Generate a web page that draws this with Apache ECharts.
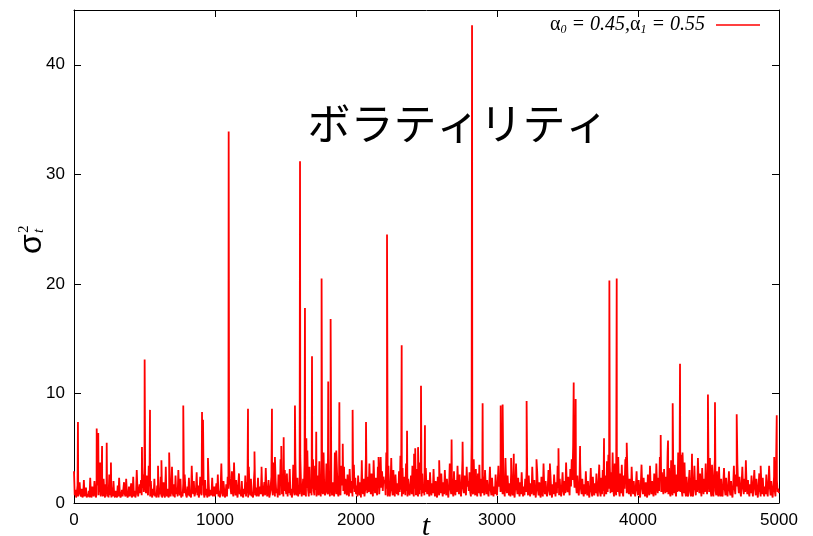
<!DOCTYPE html>
<html>
<head>
<meta charset="utf-8">
<script src="https://cdn.jsdelivr.net/npm/echarts@6/dist/echarts.min.js"></script>
<style>html,body{margin:0;padding:0;background:#fff}#c{width:813px;height:536px}</style>
</head>
<body>
<div id="c"></div>
<script>
const baseStep = 5;
const baseValues = [
2.9,0.7,1.2,0.5,0.9,1.6,0.6,0.5,1.9,0.8,0.6,1.3,0.5,0.7,2.1,0.6,0.9,1.4,0.5,0.8,
0.6,1.1,0.5,2.3,0.7,0.5,1.5,0.9,0.6,2.0,1.2,0.5,0.8,3.1,1.6,0.7,2.4,1.0,0.6,1.8,
1.3,0.6,2.2,0.9,0.5,1.7,0.8,0.6,1.2,0.5,2.6,0.9,0.7,0.5,1.4,0.6,2.0,0.8,0.5,1.1,
0.7,0.5,1.6,0.6,2.3,0.9,0.5,0.7,1.2,0.6,0.5,1.9,0.8,0.6,2.2,1.0,0.5,0.7,1.5,0.6,
0.9,1.8,0.5,0.7,2.4,0.6,1.1,0.5,0.8,3.0,1.3,0.6,0.5,1.7,0.9,2.1,0.7,1.4,2.6,1.0,
3.3,1.8,0.9,2.5,1.2,0.7,3.4,1.5,0.6,2.0,0.8,0.5,1.3,0.7,2.2,0.6,0.9,0.5,1.6,0.7,
0.5,1.2,0.8,2.4,0.6,0.5,1.0,1.9,0.7,0.5,2.7,0.9,0.6,1.3,0.5,0.8,2.0,0.6,1.1,3.3,
0.9,0.6,1.7,0.5,2.5,0.8,1.4,0.6,3.0,1.2,0.7,2.2,0.5,1.0,0.6,1.8,0.9,2.6,1.3,0.7,
0.5,1.5,0.7,2.3,0.6,1.0,0.5,3.4,1.4,0.8,2.0,0.6,0.5,1.2,2.8,0.7,1.6,0.5,0.9,2.4,
1.1,0.7,2.9,1.6,0.9,0.5,2.1,0.7,1.3,0.5,0.8,1.9,0.6,0.5,1.2,0.7,2.3,0.6,0.9,1.5,
0.6,0.5,1.8,0.8,2.6,0.6,1.1,0.5,1.4,3.6,0.9,0.6,2.0,1.2,0.5,0.8,1.7,0.6,2.4,1.3,
3.9,2.2,1.4,0.8,2.9,1.1,0.6,3.7,1.5,0.7,2.1,0.9,0.5,1.6,2.7,0.8,1.2,0.6,2.0,0.7,
0.5,1.3,0.8,2.5,0.6,1.9,0.9,0.5,3.3,1.2,0.7,2.2,0.6,1.0,0.5,1.8,3.1,0.7,1.4,0.6,
0.9,2.3,0.6,0.5,1.5,0.8,2.8,1.1,0.6,0.5,1.9,0.7,3.2,1.3,0.6,1.0,2.1,0.5,0.8,1.6,
2.4,1.2,0.7,3.7,1.5,0.6,2.0,0.9,1.3,0.5,2.6,1.0,0.7,4.0,1.6,0.8,2.2,0.6,1.1,3.0,
1.4,0.8,2.7,0.6,1.9,0.9,3.1,0.7,1.3,0.5,0.9,3.5,1.5,0.7,4.1,1.1,0.7,2.3,0.6,1.6,
0.8,4.3,1.7,0.6,1.2,2.2,0.7,3.6,1.0,0.6,1.4,4.8,1.2,0.6,3.3,0.9,1.8,0.7,1.3,4.0,
1.1,0.7,3.4,1.2,0.6,2.5,1.0,0.7,3.8,1.1,0.6,2.6,1.4,0.8,4.6,1.2,0.7,1.0,3.6,1.2,
0.8,2.1,1.3,0.6,4.8,1.5,0.7,1.9,1.0,0.6,4.6,1.4,0.8,3.0,1.0,0.6,2.7,1.0,0.7,3.4,
1.6,2.9,1.1,3.3,0.8,2.2,1.4,0.7,2.6,1.2,0.6,3.1,1.5,0.9,2.0,0.6,1.3,3.5,1.0,2.3,
0.8,1.6,0.6,2.5,1.1,0.7,1.9,0.5,3.0,1.3,0.8,2.2,0.6,1.2,4.1,1.7,0.9,2.4,1.0,3.6,
1.5,0.8,2.7,1.1,0.6,3.9,1.8,0.9,2.3,1.2,0.7,3.3,1.6,0.8,2.0,4.2,1.4,2.9,1.1,2.4,
1.8,2.1,0.7,4.6,1.3,0.6,3.4,1.0,0.6,1.6,4.1,1.2,0.7,3.0,1.0,0.6,2.6,1.3,0.8,1.8,
0.7,2.9,1.0,4.3,1.2,0.6,3.2,0.8,1.5,2.4,0.7,3.6,1.1,0.6,2.2,1.2,0.7,1.6,2.5,0.8,
3.4,1.0,0.6,4.5,1.3,0.7,3.1,1.0,0.6,2.4,0.8,3.7,1.2,0.6,2.7,0.9,1.6,0.7,1.0,3.2,
1.4,0.8,2.1,1.1,0.6,2.8,1.3,0.7,1.8,0.9,3.1,1.2,0.6,2.0,1.0,0.5,2.4,1.1,0.7,1.6,
0.9,2.7,1.2,0.6,1.9,0.8,3.0,1.4,0.7,2.2,1.0,0.5,1.6,3.6,1.3,0.8,2.3,1.1,0.6,2.9,
1.2,0.7,2.1,1.0,3.4,1.5,0.8,2.6,1.1,0.6,1.8,3.9,1.4,0.9,2.5,1.2,0.7,3.3,1.5,2.0,
1.1,2.8,1.0,0.6,5.4,1.2,0.8,4.0,1.3,0.7,3.1,1.0,0.6,2.7,0.9,3.5,1.0,0.6,2.2,0.9,
2.5,1.3,0.7,3.0,1.6,0.8,2.1,1.0,0.6,1.7,3.3,1.2,0.7,2.3,1.0,0.6,1.5,0.8,2.6,1.1,
0.7,1.9,3.4,1.5,2.4,1.0,3.1,1.6,0.8,2.2,1.1,0.6,4.1,1.7,0.9,2.5,1.2,0.7,1.8,0.6,
2.7,1.3,0.7,2.0,0.9,0.5,1.6,3.6,1.4,0.8,2.3,1.1,0.6,1.9,0.8,2.8,1.2,0.6,1.5,0.7,
2.2,1.0,3.2,1.4,0.7,2.5,1.1,0.6,1.8,0.8,3.3,1.5,0.7,2.1,1.0,0.5,1.6,2.9,1.2,0.7,
1.9,0.8,0.5,2.4,1.1,0.6,3.6,1.5,0.8,2.0,0.9,0.6,1.4,3.0,1.2,0.7,2.3,1.0,0.5,1.7,
0.8,2.6,1.2,0.6,1.9,0.9,3.4,1.4,0.7,2.2,1.0,0.6,1.5,2.8,1.1,0.7,2.0,0.9,3.7,1.6,
1.0,2.4,1.3,0.7,3.1,1.5,4.0,2.1,5.2,2.6,1.4,3.3,1.7,0.9,2.5,1.2,0.7,1.8,3.6,1.3,
0.8,2.2,1.0,0.6,1.7,0.8,2.9,1.3,0.7,2.0,0.9,0.5,1.5,3.2,1.1,0.6,2.4,1.0,0.7,1.8,
0.9,2.7,1.0,0.6,1.9,3.5,1.0,0.6,2.3,0.8,3.0,1.1,0.6,1.3,2.5,0.8,3.8,1.0,4.4,1.3,
3.4,0.9,2.8,1.0,4.6,1.1,0.6,3.6,1.2,0.7,3.0,1.0,4.2,1.1,0.6,2.7,0.9,3.5,1.0,0.6,
2.5,1.3,4.0,1.9,0.9,2.8,1.4,0.8,2.2,1.1,0.6,3.3,1.5,0.8,2.0,1.0,0.6,1.6,2.9,1.2,
0.7,2.1,1.0,0.5,1.7,3.5,1.4,0.8,2.3,1.1,0.6,1.9,0.9,0.5,2.6,1.2,0.7,3.4,1.5,0.8,
2.0,1.0,0.6,2.7,1.3,0.7,3.6,1.6,0.9,2.3,1.1,4.2,2.0,1.0,2.8,1.4,0.8,3.1,1.5,0.9,
2.4,1.0,4.6,0.8,3.2,1.0,0.6,3.9,1.2,0.7,2.9,0.9,3.5,1.1,0.6,2.6,1.0,4.6,1.1,3.4,
1.0,4.4,1.1,0.6,2.8,0.9,3.7,1.0,0.6,2.4,0.8,0.6,1.9,3.0,1.0,0.6,2.2,0.8,0.6,1.6,
3.4,1.4,0.7,2.1,1.0,4.1,1.8,0.9,2.7,1.2,0.6,3.2,1.5,0.8,2.2,1.0,3.6,1.6,0.8,2.4,
3.3,1.0,4.1,1.1,0.6,3.5,1.0,0.6,2.6,4.0,1.1,0.7,2.9,0.9,0.6,3.3,1.0,0.6,2.2,0.8,
0.6,1.8,3.2,1.3,0.7,2.3,1.0,0.6,1.6,2.9,1.2,0.7,2.0,0.9,0.5,1.5,3.4,1.4,0.8,2.6,
1.5,3.6,1.7,0.9,2.4,1.1,0.6,1.8,3.3,1.4,0.8,2.2,1.0,3.9,1.6,0.8,2.1,1.0,0.6,1.7,
0.9,2.5,1.2,0.6,1.9,3.0,1.3,0.7,2.2,1.0,0.5,1.6,2.7,1.1,0.6,1.8,0.8,2.3,1.0,0.6,
1.5,0.8,2.6,1.1,0.6,1.9,3.4,1.4,0.7,2.0,0.9,0.5,1.5,2.4,1.1,0.6,4.2,2.1,1.0,1.3,
0.9
];
// Individual spikes (time step, value)
const spikeT = [28,161,172,185,199,232,262,482,501,539,596,620,651,675,775,838,908,915,950,1097,1135,1234,1280,1330,1404,1425,1470,1487,1567,1603,1638,1648,1688,1718,1756,1803,1820,1860,1882,1906,1976,2041,2071,2160,2220,2324,2362,2412,2420,2440,2461,2489,2590,2678,2756,2823,2898,3026,3040,3100,3119,3210,3280,3375,3436,3544,3558,3589,3759,3797,3849,3915,3920,4161,4213,4246,4298,4316,4383,4496,4546,4700,4870,4966,4984];
const spikeV = [7.4,6.8,6.4,3.7,5.2,5.5,3.7,5.1,13.1,8.5,3.4,3.9,3.3,4.6,8.9,3.3,8.3,7.6,4.1,33.9,3.8,8.6,4.7,3.3,8.6,4.2,5.2,6.0,8.9,31.2,17.8,5.9,13.4,6.5,20.5,11.1,16.8,4.8,9.2,5.4,8.5,3.9,7.4,4.2,24.5,14.4,6.6,4.5,5.0,5.1,10.7,7.1,3.9,5.8,5.6,43.6,9.1,8.9,9.0,4.1,4.5,9.3,4.0,3.6,5.0,11.0,9.5,5.2,5.9,20.3,20.5,4.2,5.5,6.2,5.7,9.1,12.7,4.6,4.5,9.9,9.2,8.1,3.4,4.2,8.0];
const xTicks = [0,1000,2000,3000,4000,5000];
const yTicks = [0,10,20,30,40];
const seriesName = 'α0 = 0.45,α1 = 0.55';
const titleText = 'ボラティリティ';

const pts = baseValues.map((v, i) => [i * baseStep, v]);
spikeT.forEach((t, i) => pts.push([t, spikeV[i]]));
pts.sort((a, b) => a[0] - b[0]);

const chart = echarts.init(document.getElementById('c'), null, {renderer: 'canvas'});
const axisFont = {fontFamily: 'Liberation Sans', fontSize: 17, color: '#000', formatter: v => String(v)};
const line = {show: true, onZero: false, lineStyle: {color: '#000', width: 1}};
const tick = {show: true, inside: true, length: 7, lineStyle: {color: '#000', width: 1}};
chart.setOption({
  animation: false,
  backgroundColor: '#fff',
  grid: {left: 74, right: 34, top: 10, bottom: 33, containLabel: false},
  xAxis: [
    {type: 'value', min: xTicks[0], max: xTicks[xTicks.length - 1], interval: 1000,
     axisLine: line, axisTick: tick, splitLine: {show: false},
     axisLabel: Object.assign({margin: 9}, axisFont)},
    {type: 'value', position: 'top', min: xTicks[0], max: xTicks[xTicks.length - 1], interval: 1000,
     axisLine: line, axisTick: tick, splitLine: {show: false}, axisLabel: {show: false}}
  ],
  yAxis: [
    {type: 'value', min: 0, max: 45, interval: 10,
     axisLine: line, axisTick: tick, splitLine: {show: false},
     axisLabel: Object.assign({margin: 9, showMaxLabel: false}, axisFont)},
    {type: 'value', position: 'right', min: 0, max: 45, interval: 10,
     axisLine: line, axisTick: tick, splitLine: {show: false}, axisLabel: {show: false}}
  ],
  legend: {
    show: true, right: 48, top: 10, icon: 'rect', itemWidth: 44, itemHeight: 1.5, itemGap: 0,
    formatter: () => '{a|α}{s|0}{t| = 0.45,}{a|α}{s|1}{t| = 0.55}',
    textStyle: {
      padding: [0, 6, 0, 0],
      rich: {
        a: {fontFamily: 'Liberation Serif', fontSize: 20, color: '#000'},
        s: {fontFamily: 'Liberation Serif', fontStyle: 'italic', fontSize: 12, color: '#000', padding: [9, 0, 0, 0]},
        t: {fontFamily: 'Liberation Serif', fontStyle: 'italic', fontSize: 20, color: '#000'}
      }
    },
    align: 'right',
    data: [{name: seriesName, itemStyle: {color: '#ff0000'}}]
  },
  graphic: [
    {type: 'text', z: 0, x: 458, y: 124, style: {text: titleText, fontFamily: 'Noto Sans CJK JP', fontSize: 43, fill: '#000', textAlign: 'center', textVerticalAlign: 'middle'}},
    {type: 'text', z: 0, x: 426, y: 527, style: {text: 't', fontFamily: 'Liberation Serif', fontStyle: 'italic', fontSize: 30, fill: '#000', textAlign: 'center', textVerticalAlign: 'middle'}},
    {type: 'group', x: 32, y: 244, rotation: Math.PI / 2, children: [
      {type: 'text', x: 0, y: 0, style: {text: 'σ', fontFamily: 'Liberation Sans', fontSize: 32, fill: '#000', textAlign: 'center', textVerticalAlign: 'middle'}},
      {type: 'text', x: 11, y: -8, style: {text: '2', fontFamily: 'Liberation Serif', fontSize: 15, fill: '#000', textAlign: 'left', textVerticalAlign: 'middle'}},
      {type: 'text', x: 11, y: 7, style: {text: 't', fontFamily: 'Liberation Serif', fontStyle: 'italic', fontSize: 15, fill: '#000', textAlign: 'left', textVerticalAlign: 'middle'}}
    ]}
  ],
  series: [{
    name: seriesName, type: 'line', data: pts, showSymbol: false, symbol: 'none', sampling: false,
    lineStyle: {color: '#ff0000', width: 1.8}, itemStyle: {color: '#ff0000'}, z: 2
  }]
});
</script>
</body>
</html>
